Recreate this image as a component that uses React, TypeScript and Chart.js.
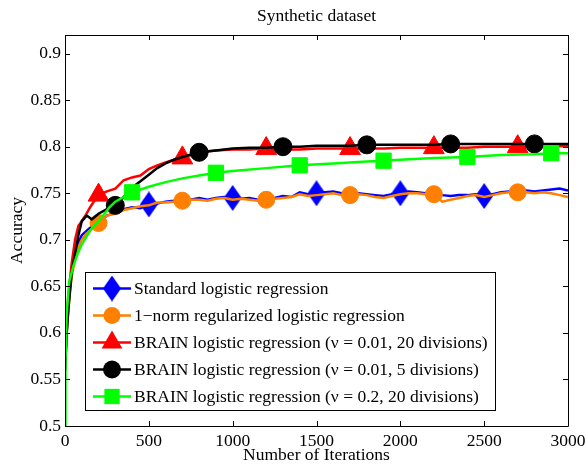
import React, { useEffect, useRef } from 'react';
import { Chart, registerables } from 'chart.js';

Chart.register(...registerables);

const TITLE = 'Synthetic dataset';
const X_LABEL = 'Number of Iterations';
const Y_LABEL = 'Accuracy';
const X_TICKS = [0, 500, 1000, 1500, 2000, 2500, 3000];
const Y_TICKS = [0.5, 0.55, 0.6, 0.65, 0.7, 0.75, 0.8, 0.85, 0.9];

const NAMES = [
  'Standard logistic regression',
  '1\u2212norm regularized logistic regression',
  'BRAIN logistic regression (\u03BD = 0.01, 20 divisions)',
  'BRAIN logistic regression (\u03BD = 0.01, 5 divisions)',
  'BRAIN logistic regression (\u03BD = 0.2, 20 divisions)',
];

// Standard + 1-norm share the iteration grid
const ITER_BASE = [0, 10, 20, 30, 40, 60, 80, 100, 125, 150, 175, 200, 250, 300, 350, 400, 450, 500, 550, 600, 650, 700, 750, 800, 850, 900, 950, 1000, 1050, 1100, 1150, 1200, 1250, 1300, 1350, 1400, 1450, 1500, 1550, 1600, 1650, 1700, 1750, 1800, 1850, 1900, 1950, 2000, 2050, 2100, 2150, 2200, 2250, 2300, 2350, 2400, 2450, 2500, 2550, 2600, 2650, 2700, 2750, 2800, 2850, 2900, 2950, 3000];
const STANDARD = [0.56, 0.6, 0.63, 0.65, 0.665, 0.685, 0.697, 0.705, 0.709, 0.713, 0.716, 0.719, 0.726, 0.729, 0.733, 0.735, 0.734, 0.738, 0.739, 0.741, 0.742, 0.744, 0.743, 0.745, 0.743, 0.745, 0.746, 0.745, 0.744, 0.745, 0.743, 0.744, 0.745, 0.747, 0.746, 0.751, 0.749, 0.75, 0.751, 0.752, 0.75, 0.749, 0.75, 0.749, 0.748, 0.747, 0.749, 0.75, 0.752, 0.751, 0.75, 0.75, 0.748, 0.747, 0.748, 0.748, 0.749, 0.747, 0.749, 0.751, 0.752, 0.752, 0.753, 0.752, 0.753, 0.754, 0.755, 0.753];
const L1NORM = [0.56, 0.6, 0.625, 0.645, 0.66, 0.68, 0.692, 0.7, 0.706, 0.71, 0.714, 0.718, 0.726, 0.728, 0.732, 0.734, 0.736, 0.737, 0.74, 0.74, 0.741, 0.742, 0.743, 0.743, 0.742, 0.744, 0.745, 0.743, 0.744, 0.743, 0.742, 0.743, 0.744, 0.745, 0.746, 0.749, 0.747, 0.748, 0.749, 0.75, 0.748, 0.748, 0.749, 0.748, 0.746, 0.745, 0.747, 0.749, 0.75, 0.75, 0.749, 0.749, 0.741, 0.743, 0.745, 0.747, 0.748, 0.746, 0.748, 0.75, 0.751, 0.751, 0.751, 0.75, 0.751, 0.75, 0.748, 0.746];

const ITER_RED = [0, 10, 20, 40, 60, 80, 100, 125, 150, 175, 200, 250, 300, 350, 400, 450, 500, 550, 600, 650, 700, 800, 900, 1000, 1100, 1200, 1300, 1400, 1500, 1600, 1700, 1800, 1900, 2000, 2100, 2200, 2300, 2400, 2500, 2600, 2700, 2800, 2900, 3000];
const BRAIN_001_20 = [0.57, 0.61, 0.64, 0.675, 0.7, 0.715, 0.72, 0.727, 0.735, 0.742, 0.748, 0.752, 0.755, 0.764, 0.767, 0.769, 0.776, 0.78, 0.783, 0.786, 0.788, 0.794, 0.796, 0.797, 0.797, 0.798, 0.797, 0.797, 0.798, 0.798, 0.798, 0.798, 0.798, 0.799, 0.799, 0.799, 0.799, 0.799, 0.8, 0.8, 0.8, 0.8, 0.8, 0.801];

const ITER_BLACK = [0, 10, 20, 40, 60, 80, 100, 130, 160, 200, 250, 300, 350, 400, 450, 500, 550, 600, 650, 700, 800, 900, 1000, 1100, 1200, 1300, 1400, 1500, 1600, 1700, 1800, 1900, 2000, 2100, 2200, 2300, 2400, 2500, 2600, 2700, 2800, 2900, 3000];
const BRAIN_001_5 = [0.56, 0.6, 0.625, 0.665, 0.685, 0.705, 0.72, 0.726, 0.722, 0.728, 0.733, 0.737, 0.746, 0.756, 0.763, 0.77, 0.777, 0.782, 0.786, 0.789, 0.794, 0.796, 0.798, 0.799, 0.799, 0.8, 0.8, 0.801, 0.801, 0.801, 0.802, 0.802, 0.802, 0.802, 0.802, 0.803, 0.803, 0.803, 0.803, 0.803, 0.803, 0.803, 0.803];

const ITER_GREEN = [0, 3, 10, 25, 50, 75, 100, 150, 200, 265, 300, 350, 400, 500, 600, 700, 800, 900, 1000, 1200, 1400, 1600, 1800, 1900, 2000, 2200, 2400, 2600, 2800, 2900, 3000];
const BRAIN_02_20 = [0.5, 0.57, 0.62, 0.655, 0.672, 0.685, 0.695, 0.71, 0.72, 0.735, 0.741, 0.746, 0.751, 0.757, 0.762, 0.766, 0.769, 0.772, 0.774, 0.777, 0.78, 0.782, 0.784, 0.785, 0.786, 0.788, 0.789, 0.791, 0.792, 0.793, 0.793];

const MARK_STANDARD = [500, 1000, 1500, 2000, 2500];
const MARK_L1 = [200, 700, 1200, 1700, 2200, 2700];
const MARK_RED = [200, 700, 1200, 1700, 2200, 2700];
const MARK_BLACK = [300, 800, 1300, 1800, 2300, 2800];
const MARK_GREEN = [400, 900, 1400, 1900, 2400, 2900];

const COLORS = ['#0000ff', '#ff8000', '#ff0000', '#000000', '#00ff00'];
const FONT = "'Liberation Serif', 'Times New Roman', serif";
const FS = 17.5;

function makeDiamond(color: string, w: number, h: number) {
  const c = document.createElement('canvas');
  c.width = w;
  c.height = h;
  const g = c.getContext('2d')!;
  g.fillStyle = color;
  g.beginPath();
  g.moveTo(w / 2, 0);
  g.lineTo(w, h / 2);
  g.lineTo(w / 2, h);
  g.lineTo(0, h / 2);
  g.closePath();
  g.fill();
  return c;
}

export default function App() {
  const ref = useRef<HTMLCanvasElement | null>(null);

  useEffect(() => {
    const canvas = ref.current;
    if (!canvas) return;
    const diamond = makeDiamond(COLORS[0], 18, 26);

    const styles: any[] = [
      { style: diamond, r: 10 },
      { style: 'circle', r: 8.5 },
      { style: 'triangle', r: 12 },
      { style: 'circle', r: 9 },
      { style: 'rect', r: 10.8 },
    ];

    const mk = (i: number, xs: number[], ys: number[], marks: number[], order: number) => ({
      label: NAMES[i],
      data: xs.map((x, k) => ({ x, y: ys[k] })),
      borderColor: COLORS[i],
      backgroundColor: COLORS[i],
      borderWidth: 2.5,
      tension: 0,
      order,
      pointStyle: styles[i].style,
      pointBackgroundColor: COLORS[i],
      pointBorderColor: COLORS[i],
      pointBorderWidth: 1,
      pointRadius: (ctx: any) => (marks.includes(xs[ctx.dataIndex]) ? styles[i].r : 0),
      pointHoverRadius: 0,
    });

    const drawMarker = (ctx: CanvasRenderingContext2D, i: number, x: number, y: number) => {
      const s = styles[i];
      ctx.fillStyle = COLORS[i];
      if (i === 0) {
        ctx.drawImage(diamond, x - diamond.width / 2, y - diamond.height / 2);
        return;
      }
      ctx.beginPath();
      if (s.style === 'circle') {
        ctx.arc(x, y, s.r, 0, Math.PI * 2);
      } else if (s.style === 'triangle') {
        const r = s.r;
        ctx.moveTo(x, y - r);
        ctx.lineTo(x + r * Math.sin(Math.PI / 3), y + r / 2);
        ctx.lineTo(x - r * Math.sin(Math.PI / 3), y + r / 2);
        ctx.closePath();
      } else {
        const h = s.r * Math.SQRT1_2;
        ctx.rect(x - h, y - h, 2 * h, 2 * h);
      }
      ctx.fill();
    };

    const framePlugin = {
      id: 'frame',
      afterDatasetsDraw(chart: any) {
        const { ctx, chartArea: a, scales } = chart;
        ctx.save();
        ctx.strokeStyle = '#000';
        ctx.lineWidth = 1;
        ctx.beginPath();
        ctx.rect(Math.round(a.left) + 0.5, Math.round(a.top) + 0.5, Math.round(a.right - a.left), Math.round(a.bottom - a.top));
        for (const v of X_TICKS) {
          const px = Math.round(scales.x.getPixelForValue(v)) + 0.5;
          ctx.moveTo(px, a.bottom);
          ctx.lineTo(px, a.bottom - 5);
          ctx.moveTo(px, a.top);
          ctx.lineTo(px, a.top + 5);
        }
        for (const v of Y_TICKS) {
          const py = Math.round(scales.y.getPixelForValue(v)) + 0.5;
          ctx.moveTo(a.left, py);
          ctx.lineTo(a.left + 5, py);
          ctx.moveTo(a.right, py);
          ctx.lineTo(a.right - 5, py);
        }
        ctx.stroke();
        ctx.restore();
      },
      afterDraw(chart: any) {
        const { ctx, chartArea: a } = chart;
        ctx.save();
        // title
        ctx.fillStyle = '#000';
        ctx.font = `${FS}px ${FONT}`;
        ctx.textAlign = 'center';
        ctx.textBaseline = 'middle';
        ctx.fillText(TITLE, (a.left + a.right) / 2, 16);
        // legend
        const bx = 85.5, by = 272.5, bw = 410, bh = 138;
        ctx.fillStyle = '#fff';
        ctx.fillRect(bx, by, bw, bh);
        ctx.strokeStyle = '#000';
        ctx.lineWidth = 1;
        ctx.strokeRect(bx, by, bw, bh);
        for (let i = 0; i < NAMES.length; i++) {
          const y = 288.5 + i * 27;
          ctx.strokeStyle = COLORS[i];
          ctx.lineWidth = 2.5;
          ctx.beginPath();
          ctx.moveTo(93, y);
          ctx.lineTo(131, y);
          ctx.stroke();
          drawMarker(ctx, i, 112, y);
          ctx.fillStyle = '#000';
          ctx.font = `${FS}px ${FONT}`;
          ctx.textAlign = 'left';
          ctx.textBaseline = 'middle';
          ctx.fillText(NAMES[i], 134, y + 1);
        }
        ctx.restore();
      },
    };

    const tickFont = { family: FONT, size: FS };

    const chart = new Chart(canvas, {
      type: 'line',
      data: {
        datasets: [
          mk(0, ITER_BASE, STANDARD, MARK_STANDARD, 5),
          mk(1, ITER_BASE, L1NORM, MARK_L1, 4),
          mk(2, ITER_RED, BRAIN_001_20, MARK_RED, 3),
          mk(3, ITER_BLACK, BRAIN_001_5, MARK_BLACK, 2),
          mk(4, ITER_GREEN, BRAIN_02_20, MARK_GREEN, 1),
        ] as any,
      },
      options: {
        animation: false,
        responsive: false,
        maintainAspectRatio: false,
        layout: { padding: { top: 35, right: 18, left: 0, bottom: 0 } },
        plugins: {
          legend: { display: false },
          tooltip: { enabled: false },
          title: { display: false },
        },
        scales: {
          x: {
            type: 'linear',
            min: 0,
            max: 3000,
            grid: { display: false, drawTicks: false },
            border: { display: false },
            afterBuildTicks: (s: any) => {
              s.ticks = X_TICKS.map((v) => ({ value: v }));
            },
            afterFit: (s: any) => {
              s.height = 40;
              s.paddingLeft = 0;
              s.paddingRight = 0;
            },
            ticks: {
              padding: 5,
              font: tickFont,
              color: '#000',
              maxRotation: 0,
              autoSkip: false,
              callback: (v: any) => String(v),
            },
            title: {
              display: true,
              text: X_LABEL,
              font: tickFont,
              color: '#000',
              padding: { top: 0, bottom: 0 },
            },
          },
          y: {
            type: 'linear',
            min: 0.5,
            max: 0.92,
            grid: { display: false, drawTicks: false },
            border: { display: false },
            afterBuildTicks: (s: any) => {
              s.ticks = Y_TICKS.map((v) => ({ value: v }));
            },
            afterFit: (s: any) => {
              s.width = 65;
              s.paddingTop = 0;
              s.paddingBottom = 0;
            },
            ticks: {
              padding: 4,
              font: tickFont,
              color: '#000',
              autoSkip: false,
              callback: (v: any) => String(v),
            },
            title: {
              display: true,
              text: Y_LABEL,
              font: tickFont,
              color: '#000',
              padding: { top: 7, bottom: 0 },
            },
          },
        },
      } as any,
      plugins: [framePlugin],
    });

    return () => chart.destroy();
  }, []);

  return (
    <div style={{ position: 'absolute', left: 0, top: 0, width: 586, height: 466, background: '#fff' }}>
      <canvas ref={ref} width={586} height={466} style={{ display: 'block' }} />
    </div>
  );
}
